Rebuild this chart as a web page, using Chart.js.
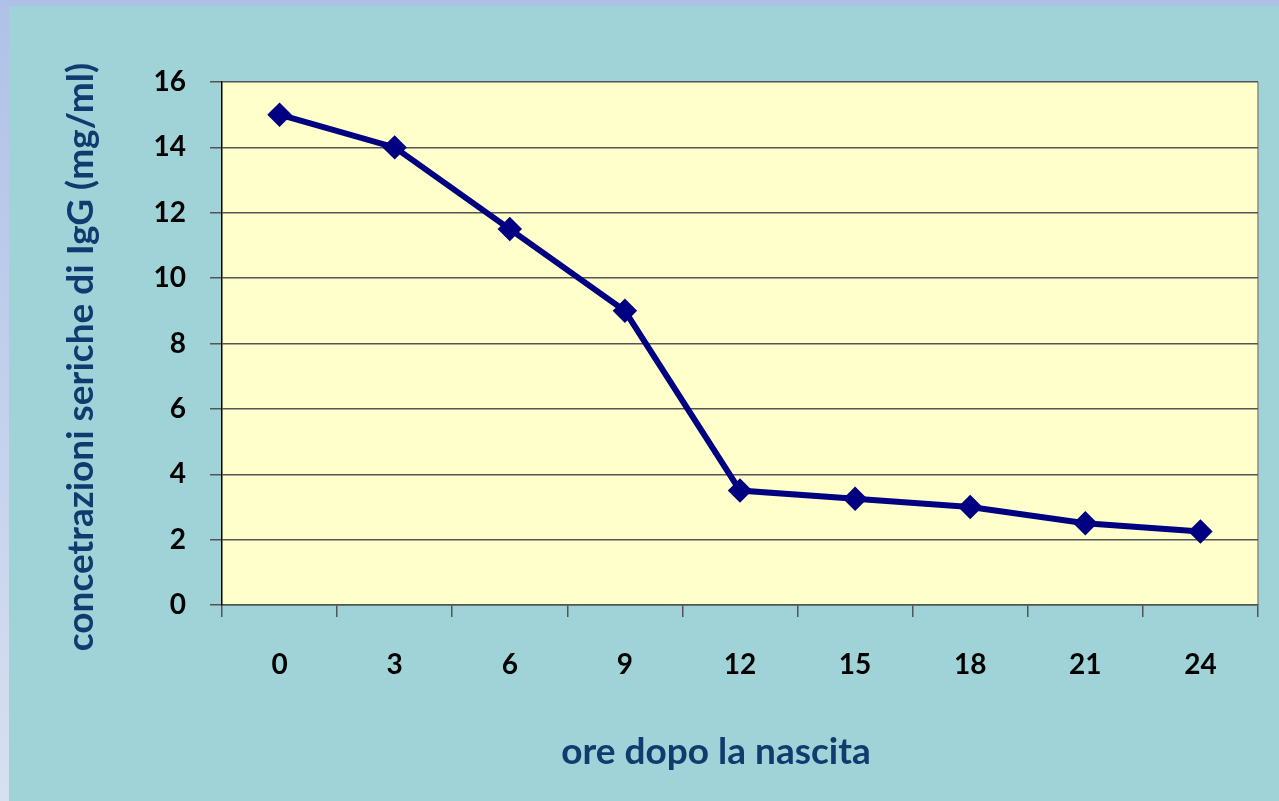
<!DOCTYPE html>
<html>
<head>
<meta charset="utf-8">
<title>IgG sieriche</title>
<script src="https://cdn.jsdelivr.net/npm/chart.js@4.4.1/dist/chart.umd.min.js"></script>
<style>
    html, body { margin: 0; padding: 0; background: #afc0e8; }
    #wrap { width: 1279px; height: 801px; position: relative; }
</style>
</head>
<body>
<div id="wrap"><canvas id="iggChart"></canvas></div>
<script>
// data
const hours = ["0", "3", "6", "9", "12", "15", "18", "21", "24"];
const iggValues = [15, 14, 11.5, 9, 3.5, 3.25, 3, 2.5, 2.25];
const yMin = 0;
const yMax = 16;
const yStep = 2;

const xTitle = "ore dopo la nascita";
const yTitle = "concetrazioni seriche di IgG (mg/ml)";

const titleColor = "#0f3b6e";
const titleFont = "bold 37px Lato";

// slide background + yellow plot area
const backdrop = {
    id: "backdrop",
    beforeDraw(chart) {
        const ctx = chart.ctx;
        const area = chart.chartArea;
        ctx.save();
        ctx.fillStyle = "#afc0e8";
        ctx.fillRect(0, 0, chart.width, chart.height);
        const grad = ctx.createLinearGradient(0, 0, 0, chart.height);
        grad.addColorStop(0, "#b0c1e8");
        grad.addColorStop(1, "#d6e0f0");
        ctx.fillStyle = grad;
        ctx.fillRect(0, 0, 9, chart.height);
        ctx.fillStyle = "#9fd3d7";
        ctx.fillRect(9, 6, chart.width - 9, chart.height - 6);
        ctx.fillStyle = "#ffffcc";
        ctx.fillRect(area.left, area.top, area.right - area.left, area.bottom - area.top);
        ctx.strokeStyle = "#8a8a8a";
        ctx.lineWidth = 1.5;
        ctx.beginPath();
        ctx.moveTo(area.right, area.top);
        ctx.lineTo(area.right, area.bottom);
        ctx.stroke();
        ctx.restore();
    }
};

// axis titles sit a bit off-centre in the original slide
const axisTitles = {
    id: "axisTitles",
    afterDraw(chart) {
        const ctx = chart.ctx;
        ctx.save();
        ctx.fillStyle = titleColor;
        ctx.font = titleFont;
        ctx.textAlign = "center";
        ctx.textBaseline = "middle";
        ctx.fillText(xTitle, 716, 752);
        ctx.translate(81, 357);
        ctx.rotate(-Math.PI / 2);
        ctx.fillText(yTitle, 0, 0);
        ctx.restore();
    }
};

const tickFont = { family: "Lato", size: 28, weight: "bold" };

new Chart(document.getElementById("iggChart"), {
    type: "line",
    data: {
        labels: hours,
        datasets: [{
            label: "IgG",
            data: iggValues,
            borderColor: "#000080",
            borderWidth: 6,
            tension: 0,
            pointStyle: "rectRot",
            pointRadius: 8,
            pointBackgroundColor: "#000080",
            pointBorderColor: "#000080"
        }]
    },
    options: {
        responsive: true,
        maintainAspectRatio: false,
        animation: false,
        layout: { padding: { top: 82, right: 21, bottom: 0, left: 0 } },
        plugins: {
            legend: { display: false },
            tooltip: { enabled: false }
        },
        scales: {
            x: {
                offset: true,
                afterFit: (scale) => { scale.height = 196; },
                grid: {
                    offset: true,
                    drawOnChartArea: false,
                    drawTicks: true,
                    tickLength: 12,
                    color: "#555555",
                    lineWidth: 1.5
                },
                border: { color: "#555555", width: 1.5 },
                ticks: { color: "#000", font: tickFont, padding: 31, maxRotation: 0 }
            },
            y: {
                min: yMin,
                max: yMax,
                afterFit: (scale) => { scale.width = 222; },
                grid: {
                    color: "#555555",
                    lineWidth: 1.5,
                    tickLength: 12
                },
                border: { color: "#000", width: 1.5 },
                ticks: { stepSize: yStep, color: "#000", font: tickFont, padding: 24 }
            }
        }
    },
    plugins: [backdrop, axisTitles]
});
</script>
</body>
</html>
